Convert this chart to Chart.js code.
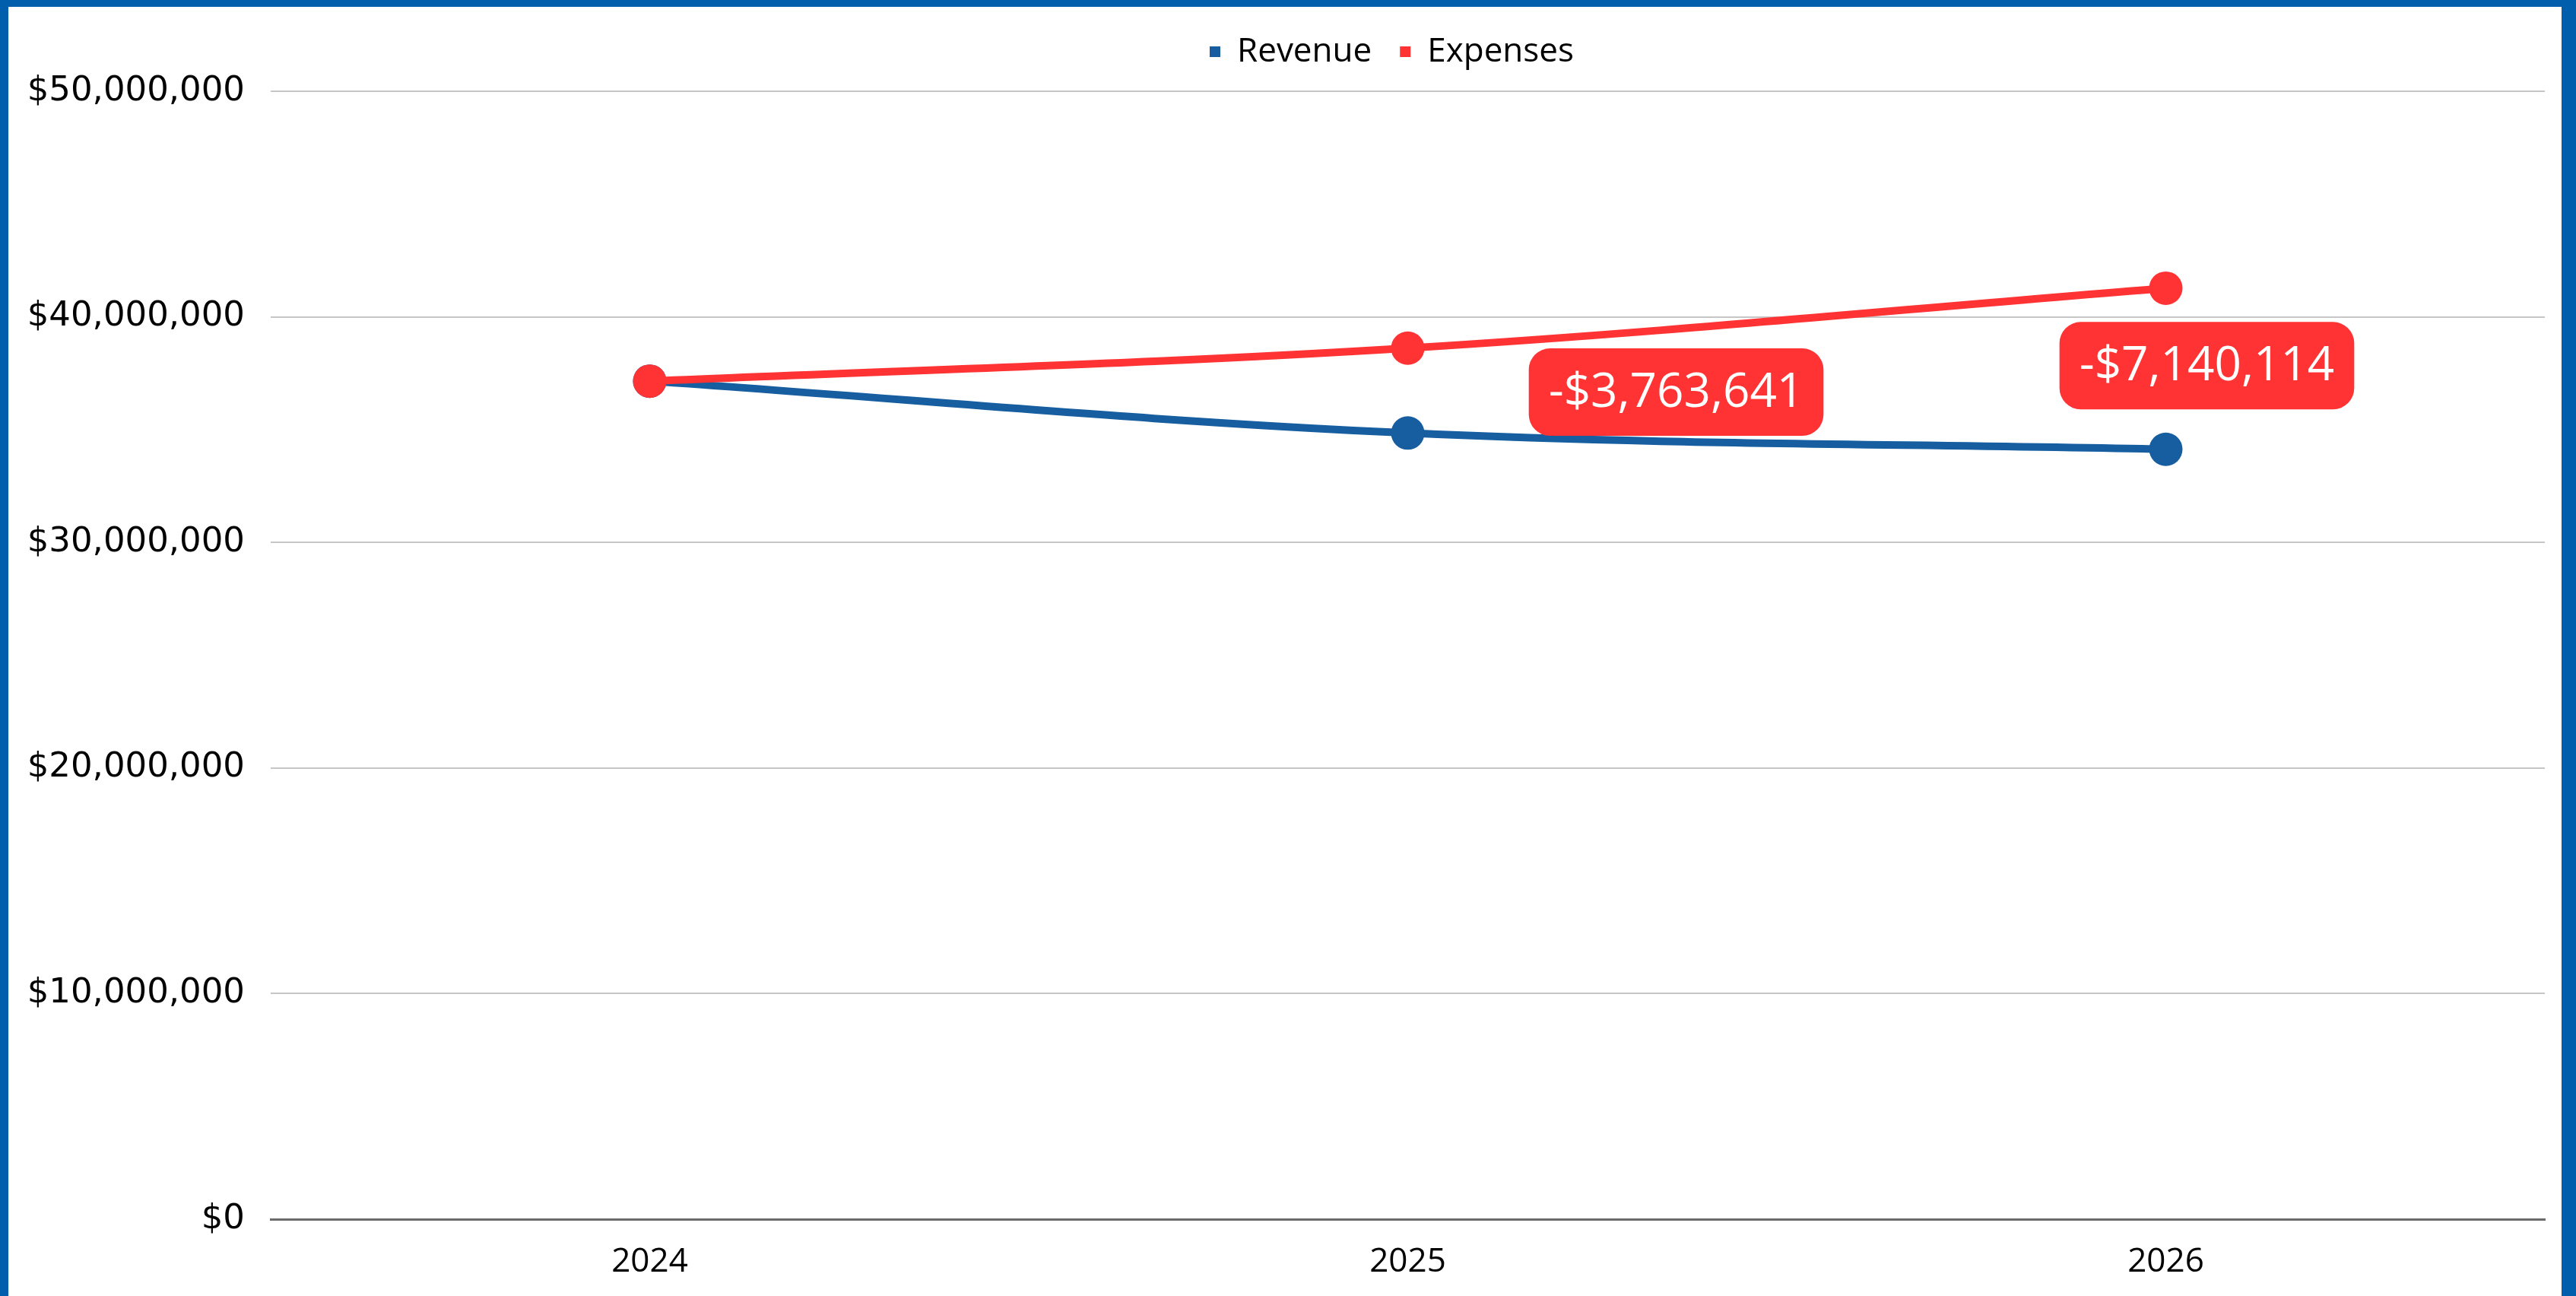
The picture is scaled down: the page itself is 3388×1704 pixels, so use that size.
<!DOCTYPE html>
<html>
<head>
<meta charset="utf-8">
<script src="https://cdn.jsdelivr.net/npm/chart.js@4"></script>
<style>
  html, body { margin: 0; padding: 0; background: #fff; }
  #frame {
    position: absolute; left: 0; top: 0;
    width: 3388px; height: 1704px; box-sizing: border-box;
    border-style: solid; border-color: #005EAC;
    border-width: 9px 19px 0 11px;
    background: #fff;
  }
  #wrap { position: relative; width: 100%; height: 100%; }
</style>
</head>
<body>
<div id="frame"><div id="wrap"><canvas id="myChart"></canvas></div></div>
<script>
const years = ['2024', '2025', '2026'];
const revenue = [37150000, 34850000, 34130000];
const expenses = [37150000, 38613641, 41270114];
const yTicks = [0, 10000000, 20000000, 30000000, 40000000, 50000000];

const FONT = "'Open Sans', sans-serif";
const TICK_FONT = "'DejaVu Sans', sans-serif";
const BLUE = '#165EA0';
const RED = '#FF3333';

const money = (v) => (v < 0 ? '-$' : '$') + Math.abs(Math.round(v)).toLocaleString('en-US');

// pins the legend height and centres it over the plot area
const legendBox = {
    id: 'legendBox',
    beforeLayout(chart, args, opts) {
        const lg = chart.legend;
        if (lg && !lg._pinned) {
            const fit = lg.fit;
            lg.fit = function () {
                fit.call(this);
                this.height = opts.height;
            };
            lg._pinned = true;
        }
    },
    afterLayout(chart, args, opts) {
        const lg = chart.legend;
        const area = chart.chartArea;
        lg.left = area.left + opts.shift;
        lg.right = area.right + opts.shift;
    }
};

// red rounded boxes with the gap between revenue and expenses
const gapLabels = {
    id: 'gapLabels',
    afterDatasetsDraw(chart, args, opts) {
        const {ctx, scales: {x, y}} = chart;
        ctx.save();
        ctx.font = opts.fontSize + 'px ' + FONT;
        ctx.textAlign = 'center';
        ctx.textBaseline = 'middle';
        years.forEach((yr, i) => {
            const diff = revenue[i] - expenses[i];
            if (diff === 0) return;
            const txt = money(diff);
            const off = opts.offsets[i];
            const cx = x.getPixelForValue(i) + off[0];
            const cy = (y.getPixelForValue(revenue[i]) + y.getPixelForValue(expenses[i])) / 2 + off[1];
            const w = ctx.measureText(txt).width + opts.padX * 2;
            const h = opts.boxHeight;
            ctx.fillStyle = RED;
            ctx.beginPath();
            ctx.roundRect(cx - w / 2, cy - h / 2, w, h, opts.radius);
            ctx.fill();
            ctx.fillStyle = '#FFFFFF';
            ctx.fillText(txt, cx, cy + 2);
        });
        ctx.restore();
    }
};

const ctx = document.getElementById('myChart').getContext('2d');

const myChart = new Chart(ctx, {
    type: 'line',
    data: {
        labels: years,
        datasets: [{
            label: 'Revenue',
            data: revenue,
            order: 1,
            borderColor: BLUE,
            backgroundColor: BLUE,
            borderWidth: 10,
            tension: 0.35,
            pointRadius: 22,
            pointBorderWidth: 0,
            pointBackgroundColor: BLUE
        }, {
            label: 'Expenses',
            data: expenses,
            order: 0,
            borderColor: RED,
            backgroundColor: RED,
            borderWidth: 10,
            tension: 0.35,
            pointRadius: 22,
            pointBorderWidth: 0,
            pointBackgroundColor: RED
        }]
    },
    options: {
        responsive: true,
        maintainAspectRatio: false,
        animation: false,
        layout: {
            padding: { top: 0, right: 19, bottom: 0, left: 0 }
        },
        plugins: {
            legend: {
                display: true,
                position: 'top',
                align: 'center',
                labels: {
                    boxWidth: 14,
                    boxHeight: 14,
                    padding: 37,
                    color: '#000000',
                    font: { size: 44, family: FONT },
                    generateLabels: (chart) =>
                        Chart.defaults.plugins.legend.labels.generateLabels(chart)
                            .sort((a, b) => a.datasetIndex - b.datasetIndex)
                            .map(l => Object.assign(l, { lineWidth: 0 }))
                }
            },
            tooltip: { enabled: false },
            legendBox: { height: 111, shift: -21 },
            gapLabels: {
                fontSize: 62,
                padX: 26,
                boxHeight: 115,
                radius: 28,
                offsets: [[0, 0], [353, 2], [54, -4]]
            }
        },
        scales: {
            y: {
                min: 0,
                max: 50000000,
                afterFit: (scale) => { scale.width = 345; },
                afterBuildTicks: (scale) => { scale.ticks = yTicks.map(v => ({ value: v })); },
                grid: {
                    display: true,
                    drawTicks: false,
                    color: '#C6C6C6',
                    lineWidth: 2
                },
                border: { display: false },
                ticks: {
                    color: '#000000',
                    padding: 34,
                    font: { size: 45, family: TICK_FONT },
                    callback: (value) => money(value)
                }
            },
            x: {
                offset: true,
                afterFit: (scale) => { scale.height = 101; },
                grid: { display: false },
                border: {
                    display: true,
                    color: '#6B6B6B',
                    width: 3
                },
                ticks: {
                    color: '#000000',
                    padding: 22,
                    maxRotation: 0,
                    font: { size: 44, family: FONT }
                }
            }
        }
    },
    plugins: [legendBox, gapLabels]
});
</script>
</body>
</html>
